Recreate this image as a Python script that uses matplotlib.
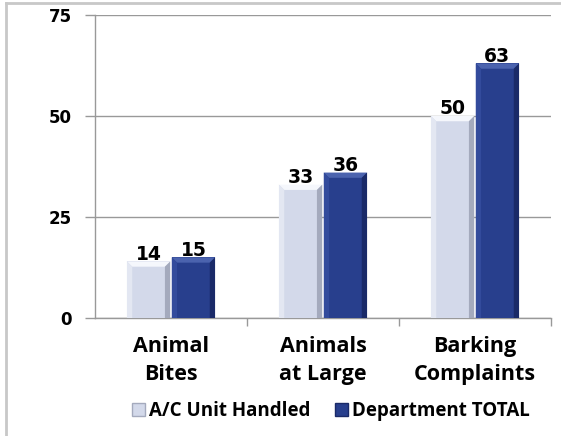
import numpy as np
import matplotlib
matplotlib.use('Agg')
import matplotlib.pyplot as plt
from matplotlib.patches import Patch
from matplotlib.lines import Line2D

categories = ['Animal\nBites', 'Animals\nat Large', 'Barking\nComplaints']
ac_unit = [14, 33, 50]
dept_total = [15, 36, 63]
series_names = ['A/C Unit Handled', 'Department TOTAL']
y_ticks = [0, 25, 50, 75]

# face, top bevel, left bevel, right bevel
light = ['#d3d9ea', '#f5f7fc', '#e3e7f2', '#a4aabd']
dark = ['#283f8d', '#4b63ae', '#334b9c', '#1a2a68']

fig = plt.figure(figsize=(5.61, 4.36), dpi=100)
ax = fig.add_axes([95/561, 1-318/436, 456/561, 303/436])

x = np.arange(len(categories))
w = 0.285
bx = 0.035   # bevel width (x units)
by = 1.3     # bevel height (y units)


def bevel_bars(xs, vals, cols):
    bars = ax.bar(xs, vals, width=w, color=cols[0], linewidth=0, zorder=3)
    for b in bars:
        x0 = b.get_x()
        x1 = x0 + b.get_width()
        h = b.get_height()
        ax.fill([x0, x1, x1 - bx, x0 + bx], [h, h, h - by, h - by], color=cols[1], lw=0, zorder=4)
        ax.fill([x0, x0 + bx, x0 + bx, x0], [0, 0, h - by, h], color=cols[2], lw=0, zorder=4)
        ax.fill([x1, x1 - bx, x1 - bx, x1], [0, 0, h - by, h], color=cols[3], lw=0, zorder=4)
        ax.text(x0 + w/2, h - 0.6, str(int(h)), ha='center', va='bottom',
                fontsize=13.5, fontweight='bold', family='DejaVu Sans', zorder=5)
    return bars


bevel_bars(x - w/2 - 0.005, ac_unit, light)
bevel_bars(x + w/2 + 0.005, dept_total, dark)

ax.set_xlim(-0.5, 2.5)
ax.set_ylim(0, 75)
ax.set_yticks(y_ticks)
ax.set_yticklabels([str(t) for t in y_ticks], fontsize=12, fontweight='bold', family='DejaVu Sans')
ax.tick_params(axis='y', length=7, width=1, color='#999999', pad=9.5)
ax.grid(axis='y', color='#999999', linewidth=1, zorder=0)

ax.set_xticks(x)
ax.set_xticklabels(categories, fontsize=15.5, fontweight='bold', family='Open Sans', linespacing=1.45)
ax.tick_params(axis='x', length=0, pad=13)
ax.set_xticks([0.5, 1.5, 2.5], minor=True)
ax.tick_params(axis='x', which='minor', length=6, width=1, color='#999999')

for s in ['top', 'right']:
    ax.spines[s].set_visible(False)
for s in ['left', 'bottom']:
    ax.spines[s].set_color('#999999')
    ax.spines[s].set_linewidth(1)

handles = [Patch(facecolor=light[0], edgecolor=light[3]), Patch(facecolor=dark[0], edgecolor=dark[3])]
fig.legend(handles, series_names, loc='center', bbox_to_anchor=(0.59, 1-411/436), ncol=2,
           frameon=False, prop={'family': 'Open Sans', 'weight': 'bold', 'size': 13.5},
           handlelength=0.7, handleheight=0.7, handletextpad=0.2, columnspacing=1.3)

# outer frame (left and top edges)
fig.add_artist(Line2D([6/561, 6/561], [0, 1-3/436], color='#c8c8c8', lw=2, transform=fig.transFigure))
fig.add_artist(Line2D([6/561, 1], [1-3/436, 1-3/436], color='#c8c8c8', lw=2, transform=fig.transFigure))

fig.savefig('out.png', dpi=100)
